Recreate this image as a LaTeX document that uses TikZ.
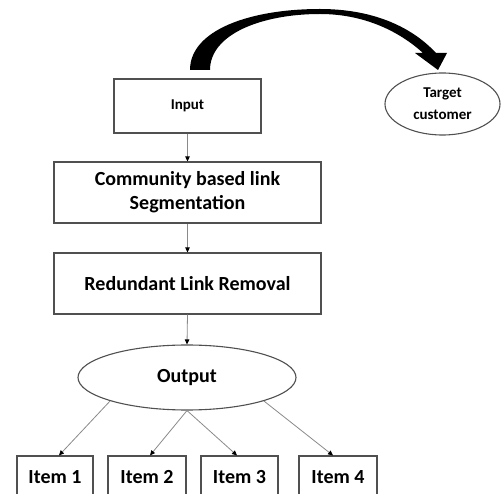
\documentclass[tikz,border=0pt]{standalone}
\usepackage{fontspec}
\setmainfont{Carlito}
\usetikzlibrary{shapes.geometric,arrows.meta}
\definecolor{boxline}{HTML}{505050}
\definecolor{conn}{HTML}{8A8A8A}
\begin{document}
\begin{tikzpicture}[x=1pt,y=-1pt,
  box/.style={draw=boxline,line width=1.1pt,fill=white,inner sep=0pt,align=center,font=\bfseries\fontsize{20}{24}\selectfont},
  oval/.style={ellipse,draw=boxline,line width=1.1pt,fill=white,inner sep=0pt,align=center,font=\bfseries\fontsize{20}{24}\selectfont},
  conarrow/.style={draw=conn,line width=0.8pt,-{Triangle[length=5pt,width=4.5pt,color=black]}}]
\useasboundingbox (0,0) rectangle (501,494);
\clip (0,0) rectangle (501,494);
% curved arrow
\fill[black] (190,70) .. controls (190,30) and (250,9) .. (320,9)
  .. controls (370,9) and (410,25) .. (436,53) -- (447,53) -- (438,70) -- (415,53) -- (423,53)
  .. controls (400,32) and (365,14) .. (320,14)
  .. controls (262,14) and (210,34) .. (210,70) -- cycle;
% nodes
\node[box,minimum width=147pt,minimum height=54pt,font=\bfseries\fontsize{15}{18}\selectfont] (in) at (187.5,106) {Input};
\node[box,minimum width=267pt,minimum height=61pt] (cs) at (187.5,192.5) {Community based link\\Segmentation};
\node[box,minimum width=267pt,minimum height=61pt] (rl) at (187.5,283.5) {Redundant Link Removal};
\node[oval,minimum width=218pt,minimum height=65pt] (out) at (187,377.5) {Output};
\node[oval,minimum width=115pt,minimum height=62pt,font=\bfseries\fontsize{15}{22}\selectfont] (tc) at (442.5,104) {Target\\customer};
\node[box,minimum width=76pt,minimum height=42pt] (i1) at (55,477) {Item 1};
\node[box,minimum width=78pt,minimum height=42pt] (i2) at (147,477) {Item 2};
\node[box,minimum width=77pt,minimum height=42pt] (i3) at (239.5,477) {Item 3};
\node[box,minimum width=78pt,minimum height=42pt] (i4) at (338,477) {Item 4};
% connectors
\draw[conarrow] (in.south) -- (cs.north);
\draw[conarrow] (cs.south) -- (rl.north);
\draw[conarrow] (rl.south) -- (out.north);
\draw[conarrow] (out.197) -- ([xshift=4pt]i1.north);
\draw[conarrow] (out.south) -- ([xshift=3pt]i2.north);
\draw[conarrow] (out.south) -- ([xshift=-2.5pt]i3.north);
\draw[conarrow] (out.343) -- ([xshift=-5pt]i4.north);
\end{tikzpicture}
\end{document}
